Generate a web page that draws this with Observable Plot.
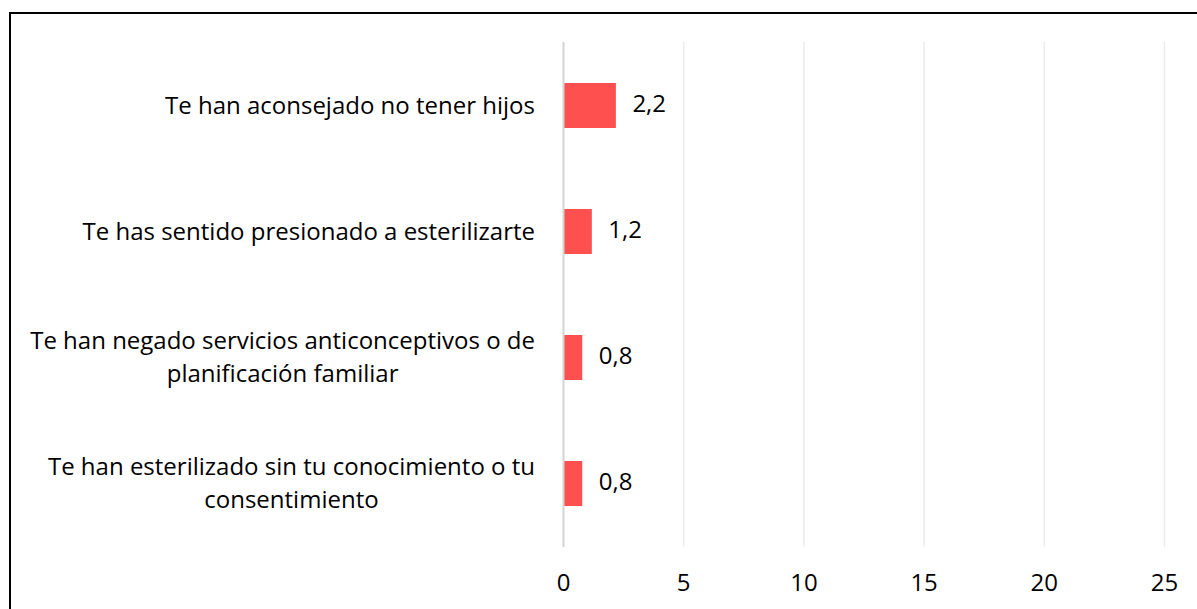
<!DOCTYPE html>
<html><head><meta charset="utf-8">
<script src="https://cdn.jsdelivr.net/npm/d3@7"></script>
<script src="https://cdn.jsdelivr.net/npm/@observablehq/plot@0.6"></script>
<style>
body{margin:0;background:#fff;overflow:hidden}
#wrap{position:relative;width:1197px;height:609px;overflow:hidden}
#frame{position:absolute;left:9px;top:12px;width:1300px;height:700px;border-left:2px solid #000;border-top:2px solid #000;pointer-events:none}
</style></head><body><div id="wrap"><div id="chart"></div><div id="frame"></div></div>
<script>
const categories = [
  "Te han aconsejado no tener hijos",
  "Te has sentido presionado a esterilizarte",
  "Te han negado servicios anticonceptivos o de\nplanificación familiar",
  "Te han esterilizado sin tu conocimiento o tu\nconsentimiento"
];
const values = [2.2, 1.2, 0.8, 0.8];
const xTicks = [0, 5, 10, 15, 20, 25];

const data = categories.map((c, i) => ({cat: c, value: values[i]}));
const fmt = v => d3.format(".1f")(v).replace(".", ",");
const FONT = "Open Sans";
const FS = 24;
const LABEL_GAP = 28;
const ML = 563;

const chart = Plot.plot({
  width: 1197,
  height: 609,
  marginLeft: ML,
  marginRight: 33,
  marginTop: 42,
  marginBottom: 62,
  style: {fontFamily: FONT, fontSize: FS + "px", color: "#000", background: "#fff"},
  x: {domain: [0, 25], axis: null, label: null},
  y: {domain: categories, axis: null, paddingInner: 0.644, paddingOuter: 0.322},
  marks: [
    Plot.ruleX(xTicks.filter(t => t !== 0), {stroke: "#ebebeb", strokeWidth: 1.5}),
    Plot.barX(data, {x: "value", y: "cat", fill: "#FF5050"}),
    Plot.ruleX([0], {stroke: "#d4d4d4", strokeWidth: 2}),
    Plot.axisX({ticks: xTicks, tickSize: 0, tickPadding: 26, fontSize: FS, label: null, tickFormat: d => String(d)}),
    Plot.text(data, {x: "value", y: "cat", text: d => fmt(d.value), textAnchor: "start", dx: 16, dy: -2, fontSize: FS, fill: "#000"}),
    Plot.text(data, {y: "cat", text: "cat", frameAnchor: "left", dx: -LABEL_GAP, dy: -3, textAnchor: "middle", lineHeight: 1.375, fontSize: FS, fill: "#000", className: "catlabels"})
  ]
});
document.getElementById("chart").appendChild(chart);

// right-align each label block while keeping its lines centred on each other
const g = chart.querySelector("g.catlabels") || chart.querySelectorAll("g[aria-label='text']")[1];
g.querySelectorAll("text").forEach(t => {
  const b = t.getBBox();
  const ctm = t.getCTM();
  const right = (b.x + b.width) * ctm.a + ctm.e;
  const shift = (ML - LABEL_GAP) - right;
  const tr = t.getAttribute("transform") || "";
  t.setAttribute("transform", tr + ` translate(${shift},0)`);
});
</script>
</body></html>
